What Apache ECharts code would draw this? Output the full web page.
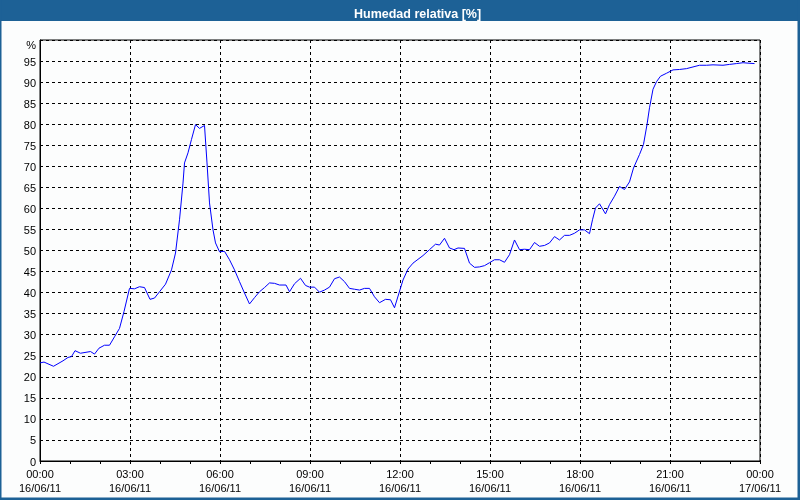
<!DOCTYPE html>
<html>
<head>
<meta charset="utf-8">
<script src="https://cdn.jsdelivr.net/npm/echarts@6/dist/echarts.min.js"></script>
<style>
html,body{margin:0;padding:0;background:#fcfdfd;}
#c{width:800px;height:500px;}
</style>
</head>
<body>
<div id="c"></div>
<script>
// minutes after 00:00 on 16/06/11
var minutes = [0,8,27,46,56,63,70,81,96,101,109,118,129,139,149,159,168,179,189,199,209,220,229,239,251,263,271,279,286,289,296,303,311,319,329,334,339,346,351,359,369,379,389,399,409,419,429,439,449,459,469,479,492,499,509,521,531,539,549,559,569,579,589,599,609,619,629,639,649,659,669,679,691,701,709,718,726,736,746,756,766,779,791,799,809,819,828,836,849,859,869,879,889,899,909,919,929,939,949,959,969,979,989,999,1009,1019,1029,1039,1049,1059,1069,1079,1089,1099,1105,1111,1119,1131,1139,1149,1159,1169,1179,1187,1199,1207,1214,1219,1226,1233,1241,1253,1266,1279,1293,1306,1319,1333,1346,1366,1379,1393,1406,1416,1429];
var humidity = [23.3,23.5,22.5,23.8,24.6,24.8,26.2,25.6,25.9,26.0,25.4,26.8,27.5,27.5,29.5,31.5,35.5,41.0,40.9,41.4,41.2,38.4,38.7,40.2,42.0,45.4,49.4,57.3,66.0,70.8,73.2,76.4,79.9,79.0,79.7,70.8,61.3,54.9,51.8,49.7,49.8,47.8,45.4,42.6,39.9,37.3,38.8,40.2,41.2,42.3,42.2,41.8,41.8,40.2,42.1,43.4,41.7,41.3,41.3,40.1,40.6,41.3,43.3,43.7,42.6,41.0,40.8,40.6,41.0,41.0,39.0,37.6,38.4,38.3,36.4,39.9,43.0,45.6,47.0,47.9,48.8,50.2,51.5,51.3,52.9,50.6,50.2,50.6,50.5,47.0,46.0,46.1,46.4,47.1,47.8,47.8,47.2,49.0,52.5,50.2,50.3,50.2,51.9,51.0,51.2,51.8,53.3,52.5,53.6,53.6,54.1,54.9,54.9,54.0,57.3,60.1,61.1,58.7,60.9,62.9,65.2,64.5,66.3,69.6,72.8,75.2,79.9,83.9,88.3,90.1,91.4,92.1,92.9,93.0,93.2,93.6,94.0,94.0,94.1,94.0,94.2,94.4,94.6,94.5,94.4];
var timeLabels = ['00:00','03:00','06:00','09:00','12:00','15:00','18:00','21:00','00:00'];
var dateLabels = ['16/06/11','16/06/11','16/06/11','16/06/11','16/06/11','16/06/11','16/06/11','16/06/11','17/06/11'];
var titleText = 'Humedad relativa [%]';
var yUnit = '%';

var data = minutes.map(function(m, i){ return [m, humidity[i]]; });
var chart = echarts.init(document.getElementById('c'), null, {renderer:'canvas'});
var font = 'Liberation Sans';
chart.setOption({
  backgroundColor: '#fcfdfd',
  animation: false,
  title: {
    text: titleText, left: 349, top: 3,
    textStyle: {color:'#ffffff', fontSize: 12.5, fontWeight:'bold', fontFamily: font}
  },
  graphic: [
    {type:'rect', shape:{x:0,y:0,width:800,height:21}, style:{fill:'#1d6196'}, z:-1},
    {type:'rect', shape:{x:0,y:0,width:1.5,height:500}, style:{fill:'#1d6196'}},
    {type:'rect', shape:{x:797.5,y:0,width:2.5,height:500}, style:{fill:'#1d6196'}},
    {type:'rect', shape:{x:0,y:497.5,width:800,height:2.5}, style:{fill:'#1d6196'}}
  ],
  grid: {left:40, right:40, top:40, bottom:39, show:true, borderColor:'#000', borderWidth:1, backgroundColor:'transparent'},
  xAxis: {
    type:'value', min:0, max:1440, interval:180,
    axisLine:{show:true, lineStyle:{color:'#000', width:1}},
    axisTick:{show:true, length:3, lineStyle:{color:'#000'}},
    minorTick:{show:true, splitNumber:3, length:3, lineStyle:{color:'#000'}},
    splitLine:{show:true, lineStyle:{color:'#000', type:[3,3], width:1}},
    axisLabel:{
      color:'#000', fontFamily:font, fontSize:11, margin:7, lineHeight:14,
      formatter:function(v){ var i=Math.round(v/180); return timeLabels[i]+'\n'+dateLabels[i]; }
    }
  },
  yAxis: {
    type:'value', min:0, max:100, interval:5,
    axisLine:{show:true, lineStyle:{color:'#000', width:1}},
    axisTick:{show:false},
    splitLine:{show:true, lineStyle:{color:'#000', type:[3,3], width:1}},
    axisLabel:{
      color:'#000', fontFamily:font, fontSize:11, margin:4, padding:[3,0,0,0],
      formatter:function(v){ return v===100 ? '{u|' + yUnit + '}' : String(v); },
      rich:{u:{color:'#000', fontFamily:font, fontSize:11, padding:[8,0,0,0]}}
    }
  },
  series: [{
    type:'line', data:data, showSymbol:false, symbol:'none',
    lineStyle:{color:'#0000ff', width:1}, z:5
  }]
});
</script>
</body>
</html>
